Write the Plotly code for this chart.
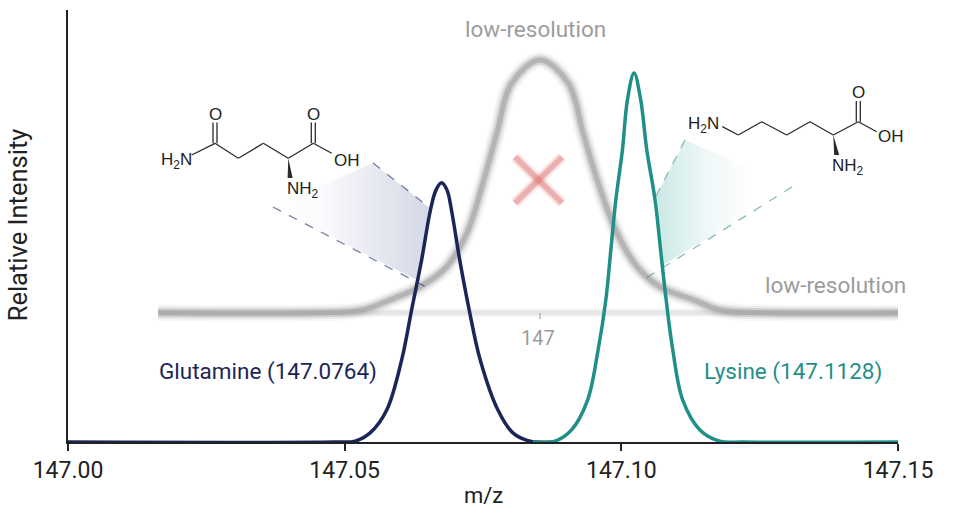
import plotly.graph_objects as go

# ---- data ----
TICK_VALS = [147.00, 147.05, 147.10, 147.15]
TICK_TEXT = ["147.00", "147.05", "147.10", "147.15"]

# high-resolution peaks (m/z, relative intensity)
GLN_MZ = [147.0000, 147.0480, 147.0519, 147.0546, 147.0576, 147.0603, 147.0621,
          147.0639, 147.0655, 147.0665, 147.0675, 147.0685, 147.0693, 147.0708,
          147.0725, 147.0745, 147.0777, 147.0804, 147.0835, 147.0880]
GLN_INT = [0.0, 0.0, 0.2, 2.1, 7.4, 19.0, 30.6,
           42.1, 53.7, 58.3, 60.0, 58.3, 53.7, 42.1,
           30.6, 19.0, 7.4, 2.1, 0.2, 0.0]

LYS_MZ = [147.0840, 147.0880, 147.0910, 147.0939, 147.0958, 147.0972, 147.0981,
          147.0990, 147.1002, 147.1011, 147.1023, 147.1035, 147.1046, 147.1061,
          147.1071, 147.1081, 147.1093, 147.1111, 147.1142, 147.1178, 147.1220,
          147.1500]
LYS_INT = [0.0, 0.2, 2.8, 9.7, 21.3, 32.9, 44.4,
           56.0, 67.6, 79.2, 85.4, 79.2, 67.6, 56.0,
           44.4, 32.9, 21.3, 9.7, 2.8, 0.2, 0.0,
           0.0]

# low-resolution (blurred) peak, sitting on its own baseline
LOWRES_MZ = [147.0163, 147.0450, 147.0530, 147.0582, 147.0636, 147.0684, 147.0721,
             147.0750, 147.0775, 147.0802, 147.0853, 147.0904, 147.0931, 147.0958,
             147.0992, 147.1029, 147.1070, 147.1130, 147.1180, 147.1260, 147.1513]
LOWRES_INT = [29.9, 29.9, 30.5, 32.9, 35.9, 40.5, 48.4,
              60.0, 71.5, 83.1, 88.4, 83.1, 71.5, 60.0,
              48.4, 40.5, 35.9, 32.9, 30.5, 29.9, 29.9]
LOWRES_BASE_MZ = [147.0163, 147.1513]
LOWRES_BASE_INT = [29.9, 29.9]

NAVY = "#1b2658"
TEAL = "#1f9088"
GRAY_TXT = "#9c9c9c"
INK = "#222222"

fig = go.Figure()

# light baseline of the low-resolution trace
for w, a in [(9, 0.10), (5, 0.30)]:
    fig.add_trace(go.Scatter(x=LOWRES_BASE_MZ, y=LOWRES_BASE_INT, mode="lines",
                             line=dict(color=f"rgba(190,190,190,{a})", width=w),
                             hoverinfo="skip", showlegend=False))

# blurred gray curve: stacked soft strokes
for w, a in [(17, 0.07), (13, 0.13), (9, 0.28), (5, 0.5)]:
    fig.add_trace(go.Scatter(x=LOWRES_MZ, y=LOWRES_INT, mode="lines",
                             line=dict(color=f"rgba(150,150,150,{a})", width=w,
                                       shape="spline", smoothing=1),
                             hoverinfo="skip", showlegend=False))

fig.add_trace(go.Scatter(x=GLN_MZ, y=GLN_INT, mode="lines",
                         line=dict(color=NAVY, width=3.5, shape="spline", smoothing=1),
                         name="Glutamine", showlegend=False))
fig.add_trace(go.Scatter(x=LYS_MZ, y=LYS_INT, mode="lines",
                         line=dict(color=TEAL, width=3.5, shape="spline", smoothing=1),
                         name="Lysine", showlegend=False))

# ---- decoration layer (pixel-like overlay axes) ----
GLN_WEDGE = dict(x=[373, 429, 417, 273, 373], y=[163, 207.5, 280, 207, 163])
LYS_WEDGE = dict(x=[657, 685, 792, 663, 657], y=[195, 140, 187, 265, 195])

fig.add_trace(go.Scatter(x=GLN_WEDGE["x"], y=GLN_WEDGE["y"], xaxis="x2", yaxis="y2",
                         mode="lines", line=dict(width=0), fill="toself",
                         fillgradient=dict(type="horizontal",
                                           colorscale=[[0, "rgba(45,60,130,0)"],
                                                       [0.3, "rgba(45,60,130,0.02)"],
                                                       [1, "rgba(45,60,130,0.2)"]]),
                         hoverinfo="skip", showlegend=False))
fig.add_trace(go.Scatter(x=LYS_WEDGE["x"], y=LYS_WEDGE["y"], xaxis="x2", yaxis="y2",
                         mode="lines", line=dict(width=0), fill="toself",
                         fillgradient=dict(type="horizontal",
                                           colorscale=[[0, "rgba(40,160,150,0.24)"],
                                                       [0.35, "rgba(40,160,150,0.08)"],
                                                       [0.7, "rgba(40,160,150,0.0)"],
                                                       [1, "rgba(40,160,150,0)"]]),
                         hoverinfo="skip", showlegend=False))

shapes = []

def seg(x0, y0, x1, y1, color, width=1.3, dash=None):
    shapes.append(dict(type="line", xref="x2", yref="y2", x0=x0, y0=y0, x1=x1, y1=y1,
                       line=dict(color=color, width=width, dash=dash)))

# callout dashes
seg(373, 163, 430, 208, "rgba(50,60,110,0.65)", 1.3, "dash")
seg(273, 207, 430, 289, "rgba(50,60,110,0.65)", 1.3, "dash")
seg(685, 140, 656, 196, "rgba(60,140,135,0.6)", 1.3, "dash")
seg(792, 187, 643, 280, "rgba(60,140,135,0.6)", 1.3, "dash")

# red cross (soft)
for w, a in [(12, 0.10), (8, 0.25), (5, 0.35)]:
    seg(515, 157, 562, 203, f"rgba(220,110,110,{a})", w)
    seg(562, 157, 515, 203, f"rgba(220,110,110,{a})", w)

# little tick of the low-resolution axis
seg(540, 313, 540, 319, "rgba(180,180,180,0.7)", 2)

# glutamine skeleton
BOND = "#2b2b2b"
GLN_CHAIN_X = [191.7, 215, 238.3, 263.3, 288.3, 313.3, 331.7]
GLN_CHAIN_Y = [155, 143.3, 158.3, 143.3, 158.3, 143.3, 153.3]
for i in range(len(GLN_CHAIN_X) - 1):
    seg(GLN_CHAIN_X[i], GLN_CHAIN_Y[i], GLN_CHAIN_X[i + 1], GLN_CHAIN_Y[i + 1], BOND)
for cx in [215, 313.3]:
    seg(cx - 2, 122.5, cx - 2, 143.3, BOND)
    seg(cx + 2, 122.5, cx + 2, 143.3, BOND)
shapes.append(dict(type="path", xref="x2", yref="y2",
                   path="M 288.3 158.3 L 287.6 178 L 292.6 178 Z",
                   fillcolor=BOND, line=dict(width=0)))

# lysine skeleton
LYS_CHAIN_X = [722.3, 738.3, 761.7, 786.7, 810, 833.3, 858.3, 876.7]
LYS_CHAIN_Y = [126.7, 135, 121.7, 135, 121.7, 135, 121.7, 131.7]
for i in range(len(LYS_CHAIN_X) - 1):
    seg(LYS_CHAIN_X[i], LYS_CHAIN_Y[i], LYS_CHAIN_X[i + 1], LYS_CHAIN_Y[i + 1], BOND)
seg(856.3, 101, 856.3, 121.7, BOND)
seg(860.3, 101, 860.3, 121.7, BOND)
shapes.append(dict(type="path", xref="x2", yref="y2",
                   path="M 833.3 135 L 834.2 155 L 839.2 155 Z",
                   fillcolor=BOND, line=dict(width=0)))

annotations = []

def txt(x, y, text, size, color, ref="x2", family="Roboto", angle=0):
    annotations.append(dict(x=x, y=y, xref="paper" if ref == "paper" else "x2",
                            yref="paper" if ref == "paper" else "y2",
                            text=text, showarrow=False, textangle=angle,
                            font=dict(family=family, size=size, color=color),
                            xanchor="center", yanchor="middle"))

ATOM = "Liberation Sans"
txt(176.7, 161, "H<sub>2</sub>N", 17, INK, family=ATOM)
txt(215, 114, "O", 17, INK, family=ATOM)
txt(313.3, 114, "O", 17, INK, family=ATOM)
txt(347, 160, "OH", 17, INK, family=ATOM)
txt(303, 190, "NH<sub>2</sub>", 17, INK, family=ATOM)

txt(703.3, 125, "H<sub>2</sub>N", 17, INK, family=ATOM)
txt(858.3, 92.5, "O", 17, INK, family=ATOM)
txt(891, 136.7, "OH", 17, INK, family=ATOM)
txt(848, 167, "NH<sub>2</sub>", 17, INK, family=ATOM)

txt(535, 29, "low-resolution", 22.5, GRAY_TXT)
txt(835, 285, "low-resolution", 22.5, GRAY_TXT)
txt(538, 338, "147", 20, GRAY_TXT)
txt(268, 371, "Glutamine (147.0764)", 22.5, NAVY)
txt(793, 371, "Lysine (147.1128)", 22.5, TEAL)

# axis titles placed by paper fraction (plot spans 830 x 432 px)
txt(0.500, -0.123, "m/z", 22, INK, ref="paper")
txt(-0.060, 0.502, "Relative Intensity", 25.5, INK, ref="paper", angle=-90)

fig.update_layout(
    width=953, height=512,
    margin=dict(l=68, r=55, t=10, b=70),
    paper_bgcolor="white", plot_bgcolor="white",
    font=dict(family="Roboto", color=INK),
    showlegend=False, hovermode=False,
    shapes=shapes, annotations=annotations,
    xaxis=dict(range=[147.0, 147.15], tickvals=TICK_VALS, ticktext=TICK_TEXT,
               showline=True, linecolor=INK, linewidth=1.5,
               ticks="outside", ticklen=7, tickwidth=1.5, tickcolor=INK,
               tickfont=dict(size=23, color=INK),
               showgrid=False, zeroline=False, fixedrange=True),
    yaxis=dict(range=[0, 100], showline=True, linecolor=INK, linewidth=1.5,
               showticklabels=False, ticks="", showgrid=False, zeroline=False,
               fixedrange=True),
    xaxis2=dict(overlaying="x", anchor="y2", range=[68, 898], visible=False,
                fixedrange=True),
    yaxis2=dict(overlaying="y", anchor="x2", range=[442, 10], visible=False,
                fixedrange=True),
)

# drop the default 8px page margin so the figure fills the window exactly
fig.write_html("out.html", config={"displayModeBar": False},
               post_script="document.body.style.margin='0';")
